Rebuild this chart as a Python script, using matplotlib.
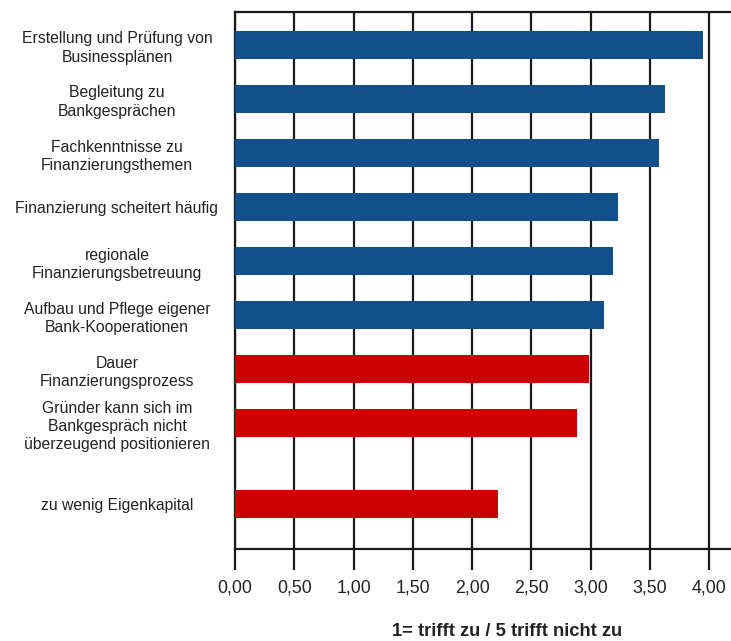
import numpy as np
import matplotlib.pyplot as plt

##########  DATA  ##########
labels = [
    "Erstellung und Prüfung von\nBusinessplänen",
    "Begleitung zu\nBankgesprächen",
    "Fachkenntnisse zu\nFinanzierungsthemen",
    "Finanzierung scheitert häufig",
    "regionale\nFinanzierungsbetreuung",
    "Aufbau und Pflege eigener\nBank-Kooperationen",
    "Dauer\nFinanzierungsprozess",
    "Gründer kann sich im\nBankgespräch nicht\nüberzeugend positionieren",
    "zu wenig Eigenkapital",
]
values = [3.95, 3.63, 3.58, 3.23, 3.19, 3.11, 2.99, 2.89, 2.22]
groups = ["blue"] * 6 + ["red"] * 3
positions = [0, 1, 2, 3, 4, 5, 6, 7, 8.5]
xticks = [0, 0.5, 1, 1.5, 2, 2.5, 3, 3.5, 4]
xticklabels = ["0,00", "0,50", "1,00", "1,50", "2,00", "2,50", "3,00", "3,50", "4,00"]
xlabel = "1= trifft zu / 5 trifft nicht zu"

colors = {"blue": "#12508c", "red": "#cc0000"}

plt.rcParams['font.family'] = ['Liberation Sans', 'DejaVu Sans']

### Plot ###
W, H = 731, 641
fig = plt.figure(figsize=(W / 100, H / 100), dpi=100)
ax = fig.add_axes([235 / W, 1 - 549 / H, 1 - 235 / W, (549 - 12) / H])

ax.barh(positions, values, height=0.53,
        color=[colors[g] for g in groups], zorder=3)

ax.set_xlim(0, (W - 235) / 118.5)
ax.set_ylim(8.5 + 0.83, -0.61)

for xv in xticks:
    ax.axvline(xv, color="#1a1a1a", lw=1.6, zorder=1)

ax.set_xticks(xticks)
ax.set_xticklabels(xticklabels, fontsize=12.8, color="#222222")
ax.tick_params(axis="x", length=15, width=1.6, color="#1a1a1a", pad=7)

ax.set_yticks(positions)
ax.set_yticklabels(labels, fontsize=11.3, ha="center", color="#222222",
                   linespacing=1.27)
ax.tick_params(axis="y", length=0, pad=85)

for s in ["left", "bottom", "top"]:
    ax.spines[s].set_linewidth(1.6)
    ax.spines[s].set_color("#1a1a1a")
ax.spines["right"].set_visible(False)

fig.text(507 / W, 1 - 632 / H, xlabel, fontsize=13.2, fontweight="bold",
         ha="center", va="center", color="#222222")

fig.savefig("out.png", dpi=100)
